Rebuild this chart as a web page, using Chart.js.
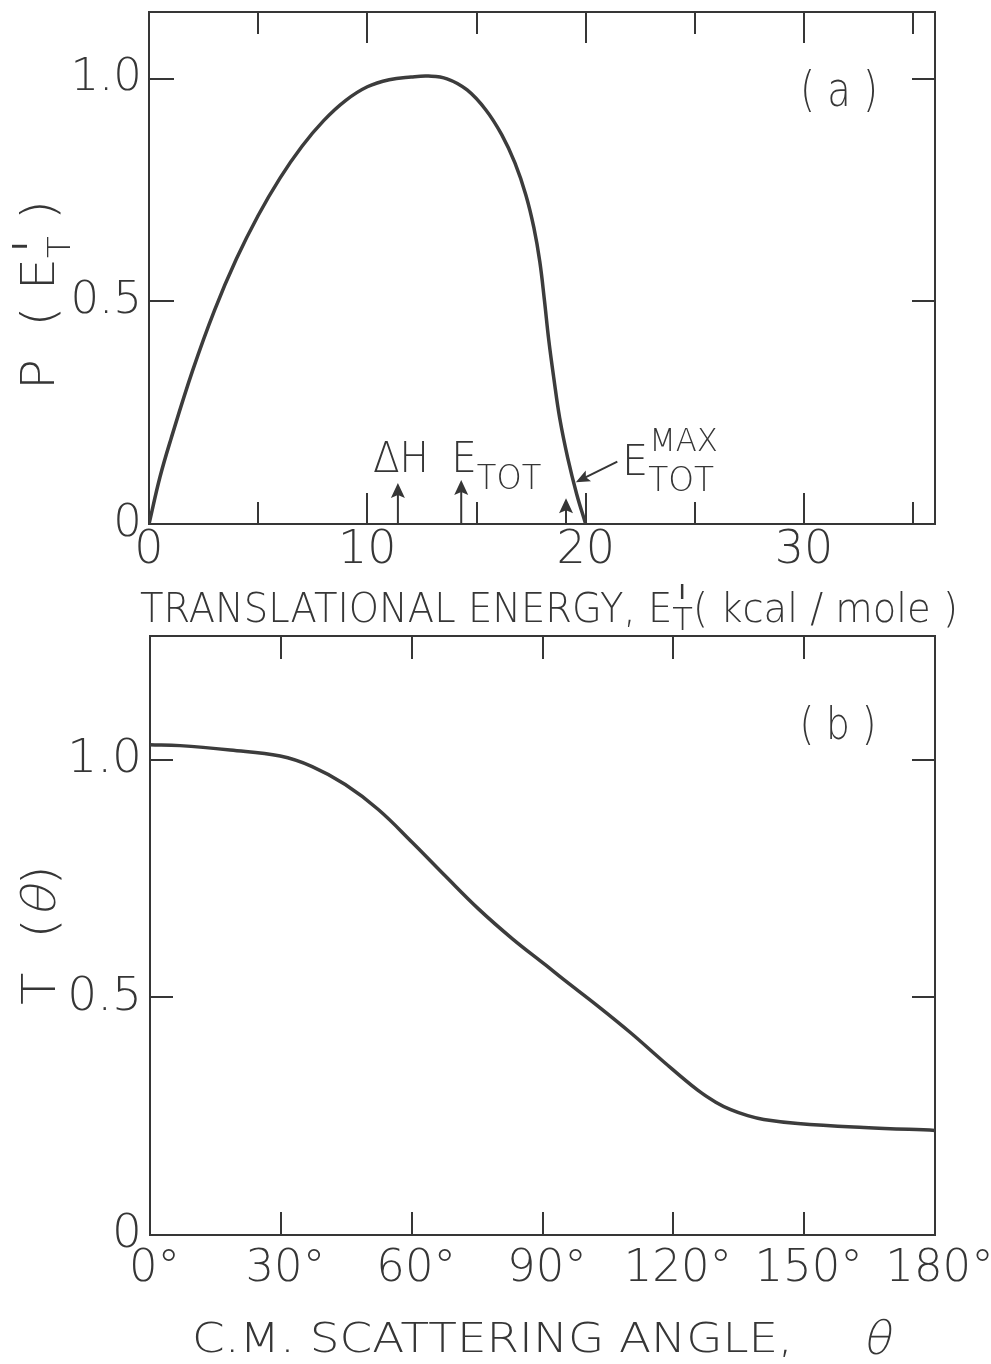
<!DOCTYPE html>
<html>
<head>
<meta charset="utf-8">
<script src="https://cdn.jsdelivr.net/npm/chart.js@4/dist/chart.umd.min.js"></script>
<style>
  html, body { margin: 0; padding: 0; background: #fff; }
  body { width: 991px; height: 1364px; position: relative; overflow: hidden; }
  .panel { position: absolute; left: 0; width: 991px; }
  #wrapA { top: 0; height: 630px; }
  #wrapB { top: 620px; height: 744px; }
  canvas { display: block; }
</style>
</head>
<body>
<div class="panel" id="wrapA"><canvas id="chartA" width="991" height="630"></canvas></div>
<div class="panel" id="wrapB"><canvas id="chartB" width="991" height="744"></canvas></div>
<script>
// ---- Panel (a): product translational energy distribution P(E'T) ----
const energy  = [0, 0.5, 1, 2, 3, 4, 5, 6, 7, 8, 9, 10, 11, 12, 12.8,
                 13.65, 14.57, 15.43, 16.16, 16.76, 17.26, 17.63, 17.90, 18.11, 18.31, 18.54, 18.81, 19.18, 19.59, 20.0];
const pEnergy = [0, 0.105, 0.190, 0.345, 0.480, 0.595, 0.693, 0.777, 0.848, 0.906, 0.951, 0.982, 0.998, 1.004, 1.006,
                 1.000, 0.975, 0.930, 0.874, 0.811, 0.739, 0.665, 0.589, 0.503, 0.413, 0.328, 0.238, 0.148, 0.067, 0];
const energyMajorTicks = [0, 10, 20, 30];
const energyMinorTicks = [5, 15, 25, 35];
const pTicks      = [0, 0.5, 1.0];
const pTickLabels = ['0', '0.5', '1.0'];
const pTicksRight = [0.5, 1.0];

// Energy markers: ΔH, E_TOT, E_TOT^MAX (kcal/mole) and the heights of their arrow tips
const markerEnergy = [11.4, 14.3, 19.1];
const markerTip    = [0.092, 0.099, 0.058];
// Leader from the E_TOT^MAX label to the curve: [tail, head] as (energy, P)
const leaderFrom = [21.45, 0.140];
const leaderTo   = [19.55, 0.094];

// ---- Panel (b): angular distribution T(θ) ----
const angle  = [0, 6.89, 18.37, 29.85, 37.19, 44.77, 52.35, 60.15, 67.73, 75.31, 83.11, 90.69, 94.82,
                102.63, 110.2, 117.78, 125.59, 129.72, 133.16, 137.06, 140.73, 148.54, 163.7, 180];
const tAngle = [1.0315, 1.0294, 1.020, 1.0074, 0.9853, 0.9475, 0.895, 0.8256, 0.755, 0.686, 0.623, 0.568, 0.5376,
                0.482, 0.4254, 0.3645, 0.3046, 0.2794, 0.2637, 0.2511, 0.2431, 0.2347, 0.2263, 0.2200];
const angleTicks      = [0, 30, 60, 90, 120, 150, 180];
const angleTickLabels = ['\u20090°', '\u200930°', '\u200960°', '\u200990°', '\u2009120°', '\u2009150°', '\u2009180°'];
const tTicks      = [0, 0.5, 1.0];
const tTickLabels = ['0', '0.5', '1.0'];
const tTicksRight = [0.5, 1.0];

// ---- shared styling ----
const FAM = "'DejaVu Sans', sans-serif";
const INK = '#363636';

function font(size) { return `normal 200 ${size}px ${FAM}`; }

// A linear axis whose tick marks point into the plot; size fixes the space it reserves.
function axis(pos, min, max, values, len, o = {}) {
  const horiz = pos === 'top' || pos === 'bottom';
  return {
    type: 'linear', position: pos, min, max, weight: o.weight || 0,
    afterBuildTicks: s => { s.ticks = values.map(v => ({ value: v })); },
    afterFit: s => {
      if (horiz) s.height = o.size || 0; else s.width = o.size || 0;
      s.paddingLeft = s.paddingRight = s.paddingTop = s.paddingBottom = 0;
    },
    grid: { drawOnChartArea: false, tickLength: -len, color: INK, lineWidth: 2 },
    border: { display: !!o.border, color: INK, width: 2 },
    ticks: o.labels ? {
      display: true, autoSkip: false, maxRotation: 0, minRotation: 0, padding: o.pad, color: INK,
      font: { family: FAM, size: o.fs, weight: 200, lineHeight: 1 },
      callback: v => o.labels[values.indexOf(v)]
    } : { display: false }
  };
}

// Draws text runs on one baseline; stacked runs do not advance the pen,
// slanted runs get a shear in place of an oblique face.
// If width is given the whole group is squeezed/stretched horizontally to it.
function drawRuns(ctx, runs, x, y, opt = {}) {
  ctx.save();
  ctx.textBaseline = 'alphabetic';
  ctx.textAlign = 'left';
  ctx.fillStyle = INK;
  let natural = 0;
  const w = runs.map(r => {
    ctx.font = font(r.size);
    const m = ctx.measureText(r.t).width;
    if (!r.stack) natural += m + (r.kern || 0);
    return m;
  });
  const k = opt.width ? opt.width / natural : 1;
  const x0 = opt.align === 'center' ? x - natural * k / 2 : x;
  ctx.translate(x0, y);
  ctx.scale(k, 1);
  let pen = 0;
  runs.forEach((r, i) => {
    ctx.font = font(r.size);
    ctx.save();
    ctx.translate(pen + (r.dx || 0), r.dy || 0);
    if (r.slant) ctx.transform(1, 0, -r.slant, 1, 0, 0);
    ctx.fillText(r.t, 0, 0);
    ctx.restore();
    if (!r.stack) pen += w[i] + (r.kern || 0);
  });
  ctx.restore();
}

function arrowHead(ctx, tx, ty, ang, len, half) {
  ctx.beginPath();
  ctx.moveTo(tx, ty);
  ctx.lineTo(tx - len * Math.cos(ang) + half * Math.sin(ang), ty - len * Math.sin(ang) - half * Math.cos(ang));
  ctx.lineTo(tx - len * Math.cos(ang) * 0.8, ty - len * Math.sin(ang) * 0.8);
  ctx.lineTo(tx - len * Math.cos(ang) - half * Math.sin(ang), ty - len * Math.sin(ang) + half * Math.cos(ang));
  ctx.closePath();
  ctx.fill();
}

function arrow(ctx, x1, y1, x2, y2) {
  const ang = Math.atan2(y2 - y1, x2 - x1);
  ctx.save();
  ctx.strokeStyle = INK; ctx.fillStyle = INK; ctx.lineWidth = 2;
  ctx.beginPath();
  ctx.moveTo(x1, y1);
  ctx.lineTo(x2 - 9 * Math.cos(ang), y2 - 9 * Math.sin(ang));
  ctx.stroke();
  arrowHead(ctx, x2, y2, ang, 14, 6);
  ctx.restore();
}

const annotateA = {
  id: 'annotateA',
  afterDraw(chart) {
    const ctx = chart.ctx, xs = chart.scales.x, ys = chart.scales.y, area = chart.chartArea;
    // axis titles
    drawRuns(ctx, [
      { t: 'TRANSLATIONAL ENERGY, E', size: 41 },
      { t: "'", size: 56, dy: 2, dx: 3, stack: true },
      { t: 'T', size: 36, dy: 11 },
      { t: '( kcal / mole )', size: 41 }
    ], 140, 622, { width: 818 });

    ctx.save();
    ctx.translate(37, 295);
    ctx.rotate(-Math.PI / 2);
    drawRuns(ctx, [
      { t: 'P  ( E', size: 46 },
      { t: "'", size: 56, dy: -2, dx: 3, stack: true },
      { t: 'T', size: 32, dy: 16 },
      { t: ' )', size: 46 }
    ], 0, 17, { align: 'center', width: 190 });
    ctx.restore();

    drawRuns(ctx, [{ t: '( a )', size: 48 }], 839, 106, { align: 'center', width: 78 });

    // energy markers
    ctx.save();
    ctx.strokeStyle = INK; ctx.fillStyle = INK; ctx.lineWidth = 2;
    markerEnergy.forEach((e, i) => {
      const px = xs.getPixelForValue(e);
      const top = ys.getPixelForValue(markerTip[i]);
      ctx.beginPath();
      ctx.moveTo(px, area.bottom);
      ctx.lineTo(px, top + 10);
      ctx.stroke();
      arrowHead(ctx, px, top, -Math.PI / 2, 15, 7);
    });
    ctx.restore();

    const hx = xs.getPixelForValue(markerEnergy[0]);
    drawRuns(ctx, [{ t: 'ΔH', size: 43 }], hx + 3, 472, { align: 'center', width: 56 });
    const ex = xs.getPixelForValue(markerEnergy[1]);
    drawRuns(ctx, [{ t: 'E', size: 43 }, { t: 'TOT', size: 34, dy: 17 }], ex - 10, 472, { width: 90 });

    drawRuns(ctx, [
      { t: 'E', size: 43 },
      { t: 'MAX', size: 32, dy: -24, stack: true, dx: 1 },
      { t: 'TOT', size: 34, dy: 16 }
    ], 622, 475, { width: 92 });

    arrow(ctx, xs.getPixelForValue(leaderFrom[0]), ys.getPixelForValue(leaderFrom[1]),
               xs.getPixelForValue(leaderTo[0]), ys.getPixelForValue(leaderTo[1]));
  }
};

const annotateB = {
  id: 'annotateB',
  afterDraw(chart) {
    const ctx = chart.ctx;
    const off = 620; // canvas top on the page
    drawRuns(ctx, [{ t: 'C.M. SCATTERING ANGLE,', size: 41 }], 192, 1352 - off, { width: 601 });
    drawRuns(ctx, [{ t: 'θ', size: 46, slant: 0.22 }], 862, 1354 - off);

    ctx.save();
    ctx.translate(38, 935 - off);
    ctx.rotate(-Math.PI / 2);
    drawRuns(ctx, [
      { t: 'T  (', size: 46 },
      { t: 'θ', size: 46, slant: 0.22 },
      { t: ')', size: 46 }
    ], 0, 17, { align: 'center', width: 140 });
    ctx.restore();

    drawRuns(ctx, [{ t: '( b )', size: 44 }], 838, 739 - off, { align: 'center', width: 77 });
  }
};

Chart.defaults.animation = false;

const lineStyle = { borderColor: '#3c3c3c', borderWidth: 3.5, pointRadius: 0, tension: 0.4, fill: false };

new Chart(document.getElementById('chartA'), {
  type: 'line',
  data: {
    datasets: [Object.assign({
      data: energy.map((e, i) => ({ x: e, y: pEnergy[i] })),
      xAxisID: 'x', yAxisID: 'y'
    }, lineStyle)]
  },
  options: {
    responsive: false, devicePixelRatio: 1, events: [],
    layout: { padding: { top: 12, right: 56, bottom: 0, left: 0 } },
    plugins: { legend: { display: false }, tooltip: { enabled: false } },
    scales: {
      x:       axis('bottom', 0, 36, energyMajorTicks, 31, { weight: 10, size: 106, border: true, labels: energyMajorTicks.map(String), fs: 46, pad: 35 }),
      xMinor:  axis('bottom', 0, 36, energyMinorTicks, 22, { weight: 0 }),
      xTop:    axis('top', 0, 36, energyMajorTicks.slice(1), 31, { border: true }),
      xTopMin: axis('top', 0, 36, energyMinorTicks, 22, {}),
      y:       axis('left', 0, 1.15, pTicks, 25, { size: 149, border: true, labels: pTickLabels, fs: 45, pad: 32 }),
      yRight:  axis('right', 0, 1.15, pTicksRight, 23, { border: true })
    }
  },
  plugins: [annotateA]
});

new Chart(document.getElementById('chartB'), {
  type: 'line',
  data: {
    datasets: [Object.assign({
      data: angle.map((a, i) => ({ x: a, y: tAngle[i] })),
      xAxisID: 'x', yAxisID: 'y'
    }, lineStyle)]
  },
  options: {
    responsive: false, devicePixelRatio: 1, events: [],
    layout: { padding: { top: 16, right: 56, bottom: 0, left: 0 } },
    plugins: { legend: { display: false }, tooltip: { enabled: false } },
    scales: {
      x:      axis('bottom', 0, 180, angleTicks, 23, { size: 129, border: true, labels: angleTickLabels, fs: 45, pad: 35 }),
      xTop:   axis('top', 0, 180, angleTicks.slice(1, -1), 23, { border: true }),
      y:      axis('left', 0, 1.26, tTicks, 23, { size: 150, border: true, labels: tTickLabels, fs: 47, pad: 31 }),
      yRight: axis('right', 0, 1.26, tTicksRight, 23, { border: true })
    }
  },
  plugins: [annotateB]
});
</script>
</body>
</html>
